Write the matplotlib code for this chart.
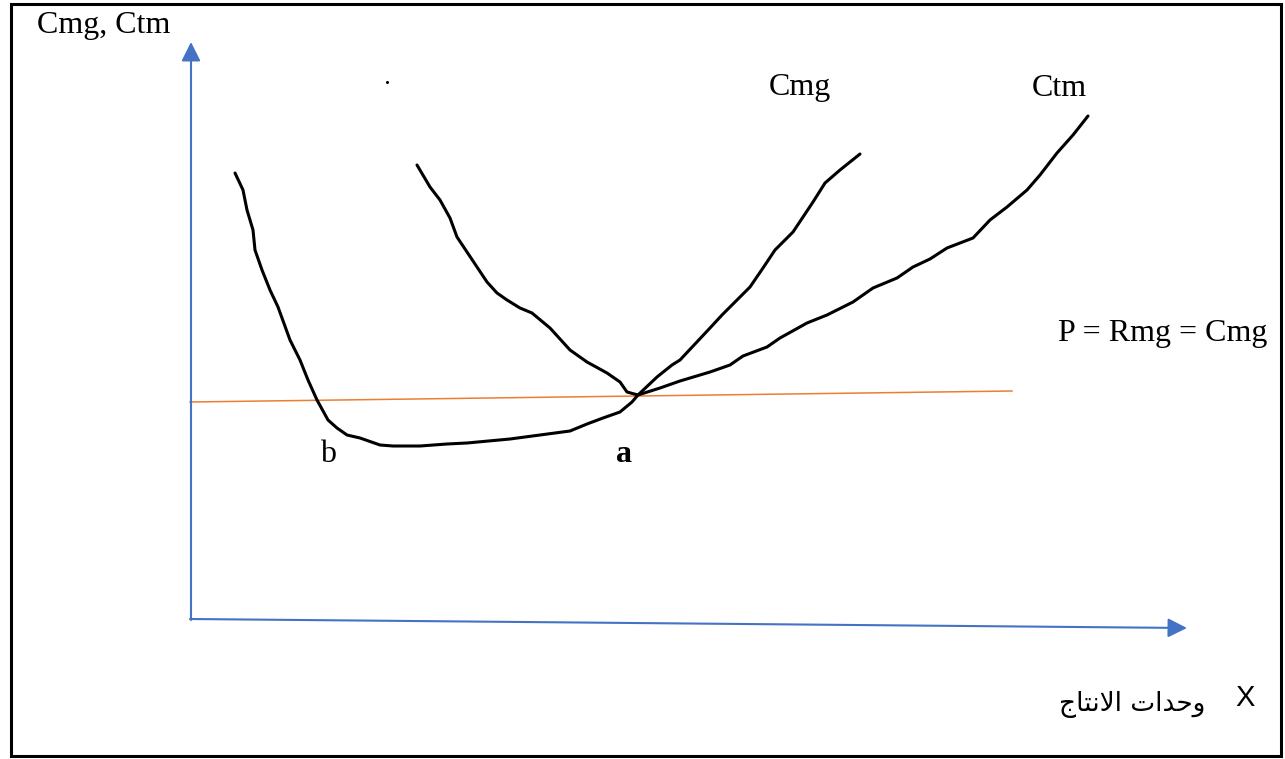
import matplotlib
matplotlib.use("Agg")
import matplotlib.pyplot as plt
from matplotlib.patches import Rectangle

# ---- data (pixel-space diagram coordinates) ----
cmg_x = [235, 243, 247, 253, 255, 262, 270, 278, 290, 300, 308, 317, 328, 337, 347, 360, 380, 393, 420, 447, 467, 510, 540, 570, 587, 603, 620, 632, 638,
         657, 672, 680, 710, 722, 750, 763, 775, 793, 803, 813, 825, 840, 860]
cmg_y = [173, 190, 210, 230, 250, 270, 290, 307, 340, 360, 380, 400, 420, 428, 435, 438, 445, 446, 446, 444, 443, 439, 435, 431, 424, 418, 412, 402, 395,
         377, 365, 360, 328, 315, 287, 268, 250, 232, 217, 202, 183, 170, 154]

ctm_x = [417, 430, 440, 450, 457, 467, 487, 497, 507, 520, 532, 550, 570, 587, 607, 620, 627, 638,
         660, 680, 710, 730, 743, 767, 780, 807, 827, 853, 873, 897, 913, 930, 947, 973, 990, 1007, 1027, 1040, 1057, 1073, 1088]
ctm_y = [165, 187, 200, 218, 237, 252, 282, 293, 300, 308, 313, 328, 350, 362, 373, 382, 392, 395,
         388, 381, 372, 365, 356, 347, 338, 323, 315, 302, 288, 278, 267, 259, 248, 238, 220, 207, 190, 175, 153, 135, 116]

price_x = [190, 1012]
price_y = [402, 391]

y_axis = [(191, 620), (191, 42)]
x_axis = [(190, 619), (1187, 628)]

# Arabic label shaped with presentation forms, visual order (left to right)
arabic_label = "\uFE9D\uFE8E\uFE98\uFEE7\uFEFB\uFE8D \uFE95\uFE8D\uFEAA\uFEA3\uFEED"

# ---- figure ----
fig = plt.figure(figsize=(12.85, 7.59), dpi=100)
ax = fig.add_axes([0, 0, 1, 1])
ax.set_xlim(0, 1285)
ax.set_ylim(759, 0)
ax.axis("off")

# frame
ax.add_patch(Rectangle((11, 4), 1270, 752, fill=False, edgecolor="black", lw=2.2))

blue = "#4472C4"
for (x0, y0), (x1, y1) in [y_axis, x_axis]:
    ax.annotate("", xy=(x1, y1), xytext=(x0, y0),
                arrowprops=dict(arrowstyle="-|>,head_length=0.4,head_width=0.2",
                                mutation_scale=29, color=blue, lw=1.5,
                                shrinkA=0, shrinkB=0))

ax.plot(price_x, price_y, color="#ED7D31", lw=1.1)
ax.plot(cmg_x, cmg_y, color="black", lw=2.2, solid_joinstyle="round", solid_capstyle="round")
ax.plot(ctm_x, ctm_y, color="black", lw=2.2, solid_joinstyle="round", solid_capstyle="round")

serif = "Liberation Serif"
fs = 23
ax.text(37, 26, "Cmg, Ctm", fontsize=fs, family=serif, ha="left", va="center")
ax.text(800, 88, "Cmg", fontsize=fs, family=serif, ha="center", va="center")
ax.text(1059, 88, "Ctm", fontsize=fs, family=serif, ha="center", va="center")
ax.text(1058, 333, "P = Rmg = Cmg", fontsize=fs, family=serif, ha="left", va="center")
ax.text(328, 455, "b", fontsize=fs, family=serif, ha="center", va="center")
ax.text(624, 455, "a", fontsize=fs, family=serif, weight="bold", ha="center", va="center")
ax.plot([387], [82], marker="o", ms=1.2, color="black")

ax.text(1245, 698, "X", fontsize=21, family="Liberation Sans", ha="center", va="center")
ax.text(1205, 705, arabic_label, fontsize=19, family=["DejaVu Sans"], ha="right", va="center")

fig.savefig("out.png", dpi=100)
